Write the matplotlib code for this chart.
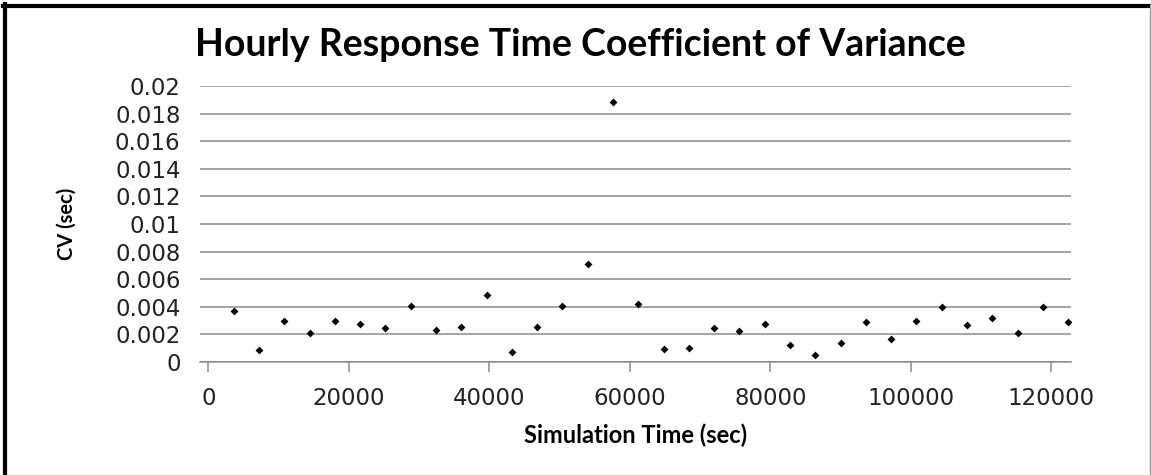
import numpy as np
import matplotlib
matplotlib.use("Agg")
import matplotlib.pyplot as plt
from matplotlib.lines import Line2D

# data: hourly samples (sec) and their coefficient of variance
hours = np.arange(1, 35)
sim_time = hours * 3600
cv = [0.00367, 0.00085, 0.0030, 0.0021, 0.0030, 0.00273, 0.00249, 0.00406,
      0.0023, 0.00254, 0.00483, 0.00075, 0.00256, 0.00406, 0.00712, 0.01882,
      0.00423, 0.00092, 0.00104, 0.00244, 0.00227, 0.00275, 0.00126, 0.0005,
      0.0014, 0.00287, 0.00169, 0.0030, 0.00399, 0.00268, 0.00319, 0.00212,
      0.0040, 0.00287]

x_ticks = [0, 20000, 40000, 60000, 80000, 100000, 120000]
y_ticks = [0, 0.002, 0.004, 0.006, 0.008, 0.01, 0.012, 0.014, 0.016, 0.018, 0.02]
y_labels = ["0", "0.002", "0.004", "0.006", "0.008", "0.01", "0.012",
            "0.014", "0.016", "0.018", "0.02"]

W, H = 1151, 475
fig = plt.figure(figsize=(W / 100, H / 100), dpi=100)
ax = fig.add_axes([200 / W, (H - 362) / H, 871 / W, 276 / H])

ax.scatter(sim_time, cv, marker="D", s=16, color="black", zorder=3, linewidths=0)

ax.set_xlim(-1200, 122800)
ax.set_ylim(0, 0.02)
ax.set_xticks(x_ticks)
ax.set_xticklabels([str(t) for t in x_ticks])
ax.set_yticks(y_ticks)
ax.set_yticklabels(y_labels)

ax.grid(axis="y", color="#8c8c8c", linewidth=1.1)
ax.set_axisbelow(True)
for s in ["left", "right", "top"]:
    ax.spines[s].set_visible(False)
ax.spines["bottom"].set_color("#8c8c8c")
ax.spines["bottom"].set_linewidth(1.1)
ax.tick_params(axis="x", direction="out", length=7, width=1.1, color="#8c8c8c",
               labelsize=16.5, labelcolor="#222222", pad=11)
ax.tick_params(axis="y", length=0, labelsize=16.5, labelcolor="#222222", pad=14)
for lab in ax.get_xticklabels() + ax.get_yticklabels():
    lab.set_family("DejaVu Sans")

fig.text(580 / W, 1 - 45 / H, "Hourly Response Time Coefficient of Variance",
         ha="center", va="center", fontsize=27, fontweight="bold", family="Lato")
ax.set_xlabel("Simulation Time (sec)", fontsize=17, fontweight="bold",
              family="Lato", labelpad=10)
fig.text(67 / W, 1 - 224 / H, "CV (sec)", rotation=90, ha="center", va="center",
         fontsize=14.5, fontweight="bold", family="Lato")

# chart border
fig.add_artist(Line2D([4.5 / W, 4.5 / W], [0, 1 - 4 / H], color="black", linewidth=3,
                      transform=fig.transFigure))
fig.add_artist(Line2D([3 / W, 1], [1 - 5.5 / H, 1 - 5.5 / H], color="black", linewidth=3,
                      transform=fig.transFigure))
fig.add_artist(Line2D([1150 / W, 1150 / W], [0, 1 - 5 / H], color="#a0a0a0", linewidth=1,
                      transform=fig.transFigure))

fig.savefig("out.png", dpi=100)
